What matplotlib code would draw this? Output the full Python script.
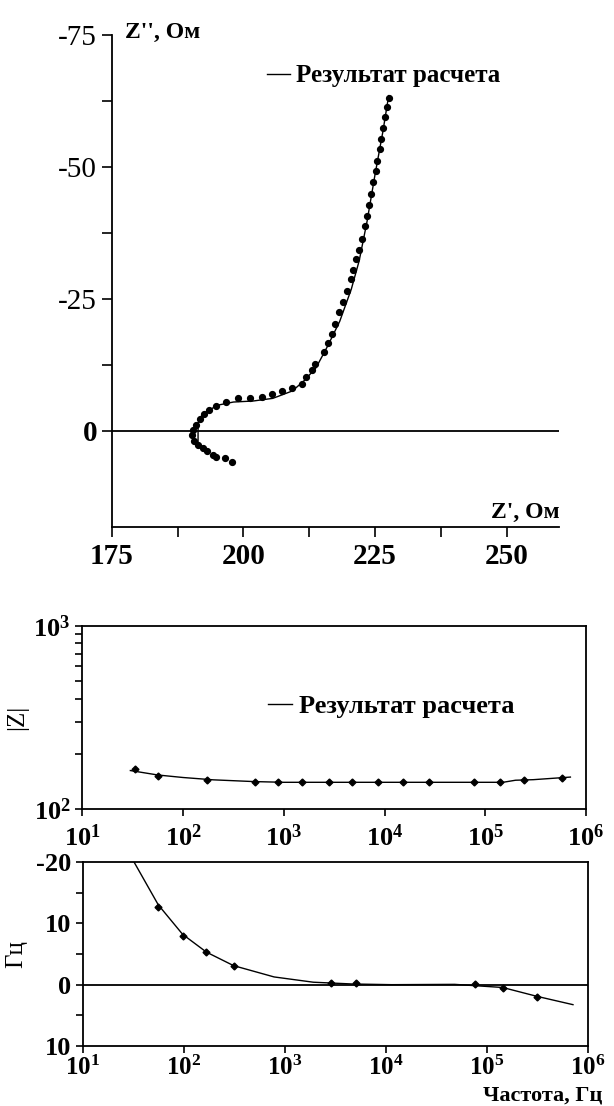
import matplotlib
matplotlib.use("Agg")
import matplotlib.pyplot as plt
from matplotlib.ticker import LogLocator, NullLocator, NullFormatter

plt.rcParams['font.family'] = ['Liberation Serif', 'DejaVu Serif']
plt.rcParams['font.weight'] = 'bold'
plt.rcParams['axes.unicode_minus'] = False
plt.rcParams['mathtext.fontset'] = 'custom'
plt.rcParams['mathtext.rm'] = 'Liberation Serif:bold'
plt.rcParams['mathtext.bf'] = 'Liberation Serif:bold'
plt.rcParams['mathtext.it'] = 'Liberation Serif:bold:italic'

# Годограф импеданса: эксперимент (точки) и расчет (линия)
zre_exp = [197.9, 196.5, 194.9, 194.2, 193.1, 192.3, 191.4, 190.7, 190.2, 190.4,
           191.0, 191.8, 192.6, 193.5, 194.9, 196.8, 199.0, 201.2, 203.5, 205.5,
           207.3, 209.2, 211.1, 211.9, 213.1, 213.7, 215.3, 216.0, 216.8, 217.4,
           218.1, 218.9, 219.6, 220.4, 220.9, 221.4, 222.0, 222.6, 223.1, 223.5,
           223.9, 224.3, 224.6, 225.1, 225.4, 225.9, 226.2, 226.5, 226.9, 227.2,
           227.6]
zim_exp = [5.9, 5.2, 5.0, 4.6, 3.8, 3.3, 2.7, 1.9, 0.9, -0.1,
           -1.1, -2.2, -3.1, -3.8, -4.7, -5.5, -6.1, -6.1, -6.4, -7.0,
           -7.4, -8.0, -8.9, -10.2, -11.5, -12.6, -14.9, -16.6, -18.3, -20.2,
           -22.4, -24.4, -26.5, -28.8, -30.5, -32.6, -34.3, -36.4, -38.7, -40.7,
           -42.8, -44.8, -47.2, -49.2, -51.2, -53.3, -55.3, -57.4, -59.4, -61.4,
           -63.1]
zre_calc = [191.4, 191.4, 192.2, 195.1, 198.1, 201.9, 205.6, 209.3, 211.6, 213.8,
            216.0, 218.3, 220.5, 222.0, 223.5, 225.0, 226.5, 227.6]
zim_calc = [3.1, -1.4, -3.1, -4.8, -5.4, -5.6, -6.1, -7.5, -9.5, -11.9,
            -16.0, -20.7, -26.8, -32.2, -39.7, -48.5, -56.7, -63.5]

# Модуль импеданса от частоты
f_mod_exp = [33, 56, 171, 521, 883, 1500, 2800, 4800, 8580, 15300, 27400,
             76700, 141000, 241000, 574000]
mod_exp = [165.6, 151.0, 144.6, 141.6, 141.6, 141.6, 141.6, 141.6, 141.6, 141.6,
           141.6, 141.6, 141.6, 144.6, 147.9]
f_mod_calc = [30, 56, 100, 200, 500, 1000, 10000, 100000, 150000, 200000, 300000, 700000]
mod_calc = [162.6, 153.8, 149.0, 144.7, 141.6, 140.3, 140.3, 140.3, 140.3, 144.0,
            145.0, 149.8]

# Фаза от частоты
f_ph_exp = [55.7, 97, 167, 310, 2850, 5000, 76800, 143000, 313000]
ph_exp = [-12.7, -8.0, -5.3, -3.0, -0.3, -0.3, -0.1, 0.6, 2.0]
f_ph_calc = [28, 32, 55.7, 97, 167, 310, 780, 1906, 4660, 11400, 47800, 143000,
             310000, 710000]
ph_calc = [-22.0, -20.0, -13.0, -8.2, -5.3, -3.1, -1.26, -0.4, -0.11, 0.0, -0.05,
           0.46, 1.89, 3.26]

ph_ticks = [-20, -10, 0, 10]
ph_labels = ["-20", "10", "0", "10"]
legend_text = "Результат расчета"

W, H = 614, 1106
fig = plt.figure(figsize=(W / 100, H / 100), dpi=100)


def box(l, t, r, b):
    return [l / W, 1 - b / H, (r - l) / W, (b - t) / H]


# ---- верхний график
ax1 = fig.add_axes(box(111.7, 35, 559.3, 526.5))
ax1.plot(zre_calc, zim_calc, color='black', lw=1.0, label=legend_text)
ax1.plot(zre_exp, zim_exp, 'o', color='black', ms=4.2, mec='black')
ax1.axhline(0, color='black', lw=1.3)
ax1.set_xlim(175, 260)
ax1.set_ylim(18.2, -75)
ax1.spines['top'].set_visible(False)
ax1.spines['right'].set_visible(False)
for s in ax1.spines.values():
    s.set_linewidth(1.3)
ax1.set_xticks([175, 200, 225, 250])
ax1.set_xticks([187.5, 212.5, 237.5], minor=True)
ax1.set_yticks([-75, -50, -25, 0])
ax1.set_yticks([-62.5, -37.5, -12.5], minor=True)
ax1.tick_params(which='both', direction='out', length=7, width=1.2, labelsize=21)
ax1.tick_params(axis='x', pad=5)
for lab in ax1.get_yticklabels()[:-1]:
    lab.set_fontweight('normal')
ax1.legend(loc='center left', bbox_to_anchor=(0.347, 0.917), frameon=False,
           fontsize=18, handlelength=0.9, handletextpad=0.25, borderpad=0,
           borderaxespad=0)
fig.text(125 / W, 1 - 38 / H, "Z'', Ом", fontsize=17, va='baseline', ha='left')
fig.text(560 / W, 1 - 518 / H, "Z', Ом", fontsize=17, va='baseline', ha='right')

# ---- средний график
ax2 = fig.add_axes(box(82.3, 625.7, 586, 809.3))
ax2.plot(f_mod_calc, mod_calc, color='black', lw=1.0, label=legend_text)
ax2.plot(f_mod_exp, mod_exp, 'D', color='black', ms=3.5)
ax2.set_xscale('log')
ax2.set_yscale('log')
ax2.set_xlim(10, 1e6)
ax2.set_ylim(100, 1000)
ax2.xaxis.set_minor_locator(NullLocator())
ax2.yaxis.set_minor_locator(LogLocator(base=10, subs=range(2, 10)))
ax2.yaxis.set_minor_formatter(NullFormatter())
for s in ax2.spines.values():
    s.set_linewidth(1.3)
ax2.tick_params(which='both', direction='out', length=5, width=1.2, labelsize=19)
ax2.tick_params(axis='x', pad=6)
ax2.set_ylabel('|Z|', fontsize=18, labelpad=4)
ax2.legend(loc='center left', bbox_to_anchor=(0.369, 0.56), frameon=False,
           fontsize=19, handlelength=0.9, handletextpad=0.25, borderpad=0,
           borderaxespad=0)

# ---- нижний график
ax3 = fig.add_axes(box(83, 862, 588, 1046))
ax3.plot(f_ph_calc, ph_calc, color='black', lw=1.0)
ax3.plot(f_ph_exp, ph_exp, 'D', color='black', ms=3.5)
ax3.axhline(0, color='black', lw=1.3)
ax3.set_xscale('log')
ax3.set_xlim(10, 1e6)
ax3.set_ylim(10, -20)
ax3.xaxis.set_minor_locator(NullLocator())
ax3.set_yticks(ph_ticks, ph_labels)
ax3.set_yticks([-15, -5, 5], minor=True)
for s in ax3.spines.values():
    s.set_linewidth(1.3)
ax3.tick_params(which='both', direction='out', length=5, width=1.2, labelsize=19)
ax3.tick_params(axis='x', pad=2, labelsize=18)
ax3.set_ylabel('Гц', fontsize=18, labelpad=6)
fig.text(602 / W, 1 - 1101 / H, 'Частота, Гц', fontsize=16, ha='right', va='baseline')

fig.savefig('out.png', dpi=100)
